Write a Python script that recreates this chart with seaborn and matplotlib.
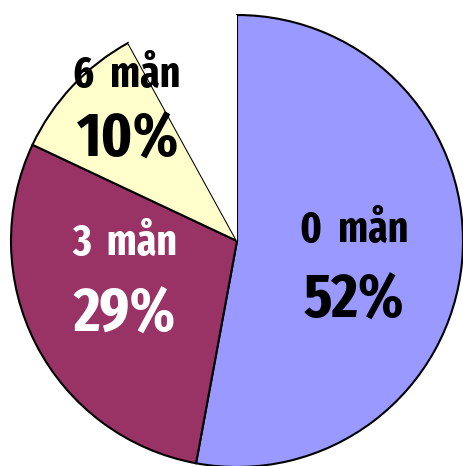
import matplotlib
matplotlib.use("Agg")
import matplotlib.pyplot as plt
import seaborn as sns
from matplotlib import font_manager

sns.set_theme(style="white")

categories = ["0 mån", "3 mån", "6 mån", ""]
values = [52.9, 29.1, 10.0, 8.0]
pct_labels = ["52%", "29%", "10%", ""]
colors = ["#9999FF", "#993366", "#FFFFCC", "#FFFFFF"]
text_colors = ["black", "white", "black", None]

names = {f.name for f in font_manager.fontManager.ttflist}
fam = next((f for f in ["Fira Sans Extra Condensed", "Fira Sans Condensed", "Roboto Condensed"] if f in names), "DejaVu Sans")
plt.rcParams["font.family"] = [fam, "DejaVu Sans"]

fig = plt.figure(figsize=(4.64, 4.66), dpi=100)
ax = fig.add_axes([0, 0, 1, 1])
wedges, _ = ax.pie(values, colors=colors, startangle=90, counterclock=False,
                   radius=1.0,
                   wedgeprops=dict(edgecolor="black", linewidth=1.5))
wedges[-1].set_edgecolor("none")

cx, cy, r = 237, 241, 226
ax.set_aspect("auto")
ax.set_xlim((0 - cx) / r, (464 - cx) / r)
ax.set_ylim(-(466 - cy) / r, cy / r)
ax.axis("off")

# label positions in pixels (center x, baseline y)
name_pos = [(354, 242), (125, 255), (127, 87)]
pct_pos = [(354, 318), (125, 332), (128, 157)]
for i in range(3):
    x, y = name_pos[i]
    ax.text((x - cx) / r, (cy - y) / r, categories[i].replace(" ", "  "), ha="center", va="baseline",
            fontsize=31, fontweight="bold", color=text_colors[i])
    x, y = pct_pos[i]
    ax.text((x - cx) / r, (cy - y) / r, pct_labels[i], ha="center", va="baseline",
            fontsize=45, fontweight="bold", color=text_colors[i])

fig.savefig("out.png", dpi=100)
